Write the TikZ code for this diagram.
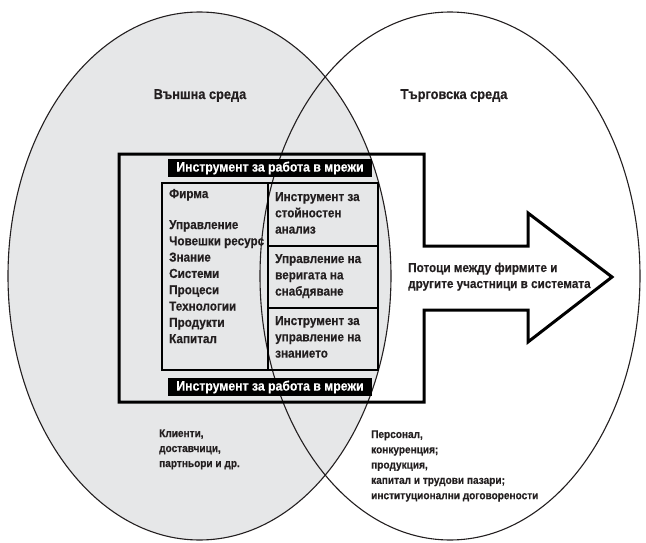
\documentclass[tikz,border=0pt]{standalone}
\usepackage{fontspec}
\setmainfont{Liberation Sans}[FakeStretch=0.9, BoldFeatures={FakeBold=0.4}]
\definecolor{venngray}{HTML}{E6E7E8}
\definecolor{ink}{HTML}{231F20}
\tikzset{
  txt/.style={font=\bfseries\fontsize{13}{15}\selectfont, text=ink, inner sep=0pt, anchor=base west},
  small/.style={font=\bfseries\fontsize{11.2}{14}\selectfont, text=ink, inner sep=0pt, anchor=base west},
  ttl/.style={font=\bfseries\fontsize{14.2}{16}\selectfont, text=ink, inner sep=0pt, anchor=base},
  blackbar/.style={fill=black, text=white, font=\bfseries\fontsize{13.6}{15}\selectfont, minimum width=204pt, minimum height=18pt, inner sep=0pt},
  ell/.style={draw=ink, line width=1.1pt},
  frame/.style={draw=black, line width=3pt, line join=miter},
}
\begin{document}
\begin{tikzpicture}[x=1pt,y=-1pt]
\useasboundingbox (0,0) rectangle (646,543);
% ellipses
\fill[venngray] (199.5,276) ellipse [x radius=191.5pt, y radius=264pt];
\draw[ell] (199.5,276) ellipse [x radius=191.5pt, y radius=264pt];
\draw[ell] (450,276) ellipse [x radius=190pt, y radius=264pt];
% titles
\node[ttl] (tvan) at (200,99) {Външна среда};
\node[ttl] (ttarg) at (454,99) {Търговска среда};
% outer frame with arrow
\draw[frame] (424,246) -- (528,246) -- (528,213) -- (612,277) -- (528,342) -- (528,310) -- (424,310)
  -- (424,402) -- (119,402) -- (119,154) -- (424,154) -- cycle;
% black bars
\node[blackbar] (bartop) at (270,168) {Инструмент за работа в мрежи};
\node[blackbar] (barbot) at (270,387) {Инструмент за работа в мрежи};
% inner box
\draw[line width=2.6pt] (162,183) rectangle (378,370);
\draw[line width=2pt] (268,183) -- (268,370);
\draw[line width=1.4pt] (268,246) -- (378,246);
\draw[line width=1.4pt] (268,308) -- (378,308);
% left column
\node[txt] (f1) at (169,198) {Фирма};
\node[txt] (f2) at (169,229) {Управление};
\node[txt] (f3) at (169,245.3) {Човешки ресурс};
\node[txt] (f4) at (169,261.6) {Знание};
\node[txt] (f5) at (169,277.9) {Системи};
\node[txt] (f6) at (169,294.2) {Процеси};
\node[txt] (f7) at (169,310.5) {Технологии};
\node[txt] (f8) at (169,326.8) {Продукти};
\node[txt] (f9) at (169,343.1) {Капитал};
% right column
\node[txt] (r1a) at (275,201) {Инструмент за};
\node[txt] (r1b) at (275,217.3) {стойностен};
\node[txt] (r1c) at (275,233.6) {анализ};
\node[txt] (r2a) at (275,263) {Управление на};
\node[txt] (r2b) at (275,279.3) {веригата на};
\node[txt] (r2c) at (275,295.6) {снабдяване};
\node[txt] (r3a) at (275,325) {Инструмент за};
\node[txt] (r3b) at (275,341.3) {управление на};
\node[txt] (r3c) at (275,357.6) {знанието};
% arrow text
\node[txt] (a1) at (408,272) {Потоци между фирмите и};
\node[txt] (a2) at (408,288) {другите участници в системата};
% bottom texts
\node[small] (k1) at (159,437) {Клиенти,};
\node[small] (k2) at (159,452) {доставчици,};
\node[small] (k3) at (159,467) {партньори и др.};
\node[small] (p1) at (371,438) {Персонал,};
\node[small] (p2) at (371,453.3) {конкуренция;};
\node[small] (p3) at (371,468.6) {продукция,};
\node[small] (p4) at (371,483.9) {капитал и трудови пазари;};
\node[small] (p5) at (371,499.2) {институционални договорености};
\end{tikzpicture}
\end{document}
